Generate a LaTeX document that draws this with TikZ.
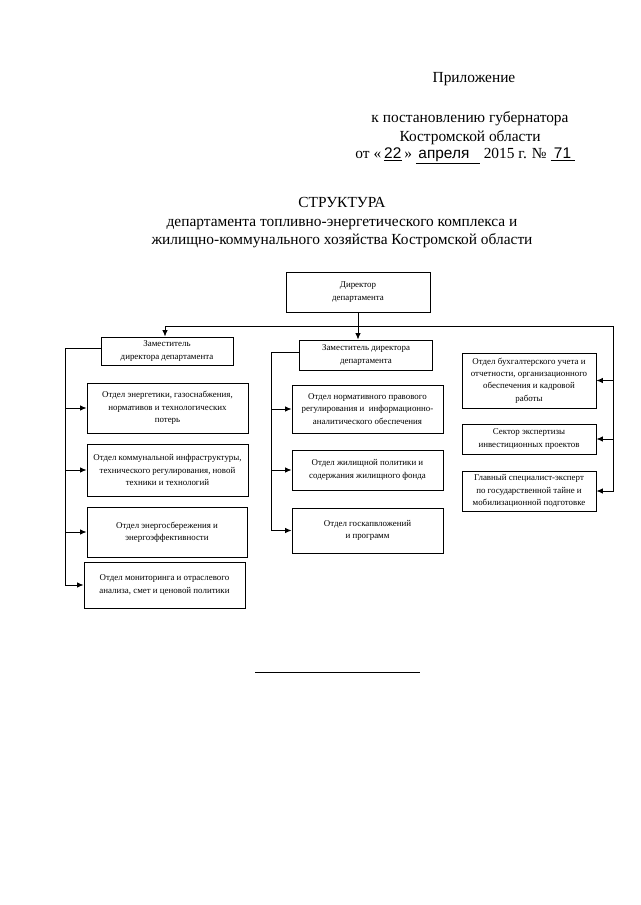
\documentclass[tikz,border=0pt]{standalone}
\usepackage{fontspec}
\setmainfont{Liberation Serif}
\newfontfamily\handfont{Liberation Sans}
\usetikzlibrary{arrows.meta}

\begin{document}
\begin{tikzpicture}[x=1pt, y=-1pt,
    box/.style={draw, line width=0.9pt, align=center, inner sep=1pt,
      font=\fontsize{8.9}{12.3}\selectfont},
    head/.style={align=center, inner sep=0pt, font=\fontsize{15.4}{18.5}\selectfont},
    link/.style={line width=0.9pt},
    >={Latex[length=6.5pt,width=5.5pt]}]
    \useasboundingbox (0,0) rectangle (640,905);
    % header
    \node [head] (pril) at (474,79) {Приложение};
    \node [head] (post) at (470,128) {к постановлению губернатора\\Костромской области};
    \node [head] (date) at (465,156) {от «\,\underline{\makebox[18pt]{\handfont 22}}\,»
      \underline{\makebox[64pt][l]{\,\handfont апреля}} 2015 г. №
      \underline{\makebox[24pt]{\handfont 71}}};
    \node [head] (titl) at (342,223) {СТРУКТУРА\\департамента топливно-энергетического комплекса и\\жилищно-коммунального хозяйства Костромской области};
    % boxes
    \node [box, minimum width=144pt, minimum height=40pt] (dir) at (358,292) {Директор\\департамента};
    \node [box, minimum width=132pt, minimum height=28pt] (dep1) at (167,351) {Заместитель\\директора департамента};
    \node [box, minimum width=133pt, minimum height=30pt] (dep2) at (366,355) {Заместитель директора\\департамента};
    \node [box, minimum width=161pt, minimum height=50pt] (otd1) at (167.5,408) {Отдел энергетики, газоснабжения,\\нормативов и технологических\\потерь};
    \node [box, minimum width=161pt, minimum height=52pt] (otd2) at (167.5,470) {Отдел коммунальной инфраструктуры,\\технического регулирования, новой\\техники и технологий};
    \node [box, minimum width=160pt, minimum height=50pt] (otd3) at (167,532) {Отдел энергосбережения и\\энергоэффективности};
    \node [box, minimum width=161pt, minimum height=46pt] (otd4) at (164.5,585) {Отдел мониторинга и отраслевого\\анализа, смет и ценовой политики};
    \node [box, minimum width=151pt, minimum height=48pt] (mid1) at (367.5,409) {Отдел нормативного правового\\регулирования и~ информационно-\\аналитического обеспечения};
    \node [box, minimum width=151pt, minimum height=40pt] (mid2) at (367.5,470) {Отдел жилищной политики и\\содержания жилищного фонда};
    \node [box, minimum width=151pt, minimum height=45pt] (mid3) at (367.5,530.5) {Отдел госкапвложений\\и программ};
    \node [box, minimum width=134pt, minimum height=55pt] (rgt1) at (529,380.5) {Отдел бухгалтерского учета и\\отчетности, организационного\\обеспечения и кадровой\\работы};
    \node [box, minimum width=134pt, minimum height=30pt] (rgt2) at (529,439) {Сектор экспертизы\\инвестиционных проектов};
    \node [box, minimum width=134pt, minimum height=40pt] (rgt3) at (529,491) {Главный специалист-эксперт\\по государственной тайне и\\мобилизационной подготовке};
    % connectors
    \coordinate (hl) at (165,326);
    \coordinate (hr) at (613,326);
    \coordinate (lt) at (65,348);
    \coordinate (mt) at (271,352);
    \draw [link, ->] (dir.south) -- (dir.south |- dep2.north);
    \draw [link, ->] (hr) -- (hl) -- (hl |- dep1.north);
    \draw [link, ->] (hr) |- (rgt3.east);
    \foreach \b in {rgt1, rgt2}
      \draw [link, ->] (hr |- \b.east) -- (\b.east);
    \draw [link, ->] (dep1.west |- lt) -- (lt) |- (otd4.west);
    \foreach \b in {otd1, otd2, otd3}
      \draw [link, ->] (lt |- \b.west) -- (\b.west);
    \draw [link, ->] (dep2.west |- mt) -- (mt) |- (mid3.west);
    \foreach \b in {mid1, mid2}
      \draw [link, ->] (mt |- \b.west) -- (\b.west);
    % line under the table
    \draw [line width=0.8pt] (255,672) -- (420,672);
\end{tikzpicture}
\end{document}
